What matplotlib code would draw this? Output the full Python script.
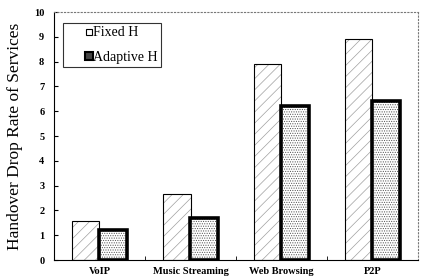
import matplotlib
matplotlib.use("Agg")
import matplotlib.pyplot as plt
import numpy as np
from matplotlib.lines import Line2D

categories = ["VoIP", "Music Streaming", "Web Browsing", "P2P"]
fixed_h = [1.57, 2.66, 7.89, 8.92]
adaptive_h = [1.2, 1.68, 6.22, 6.42]
series_names = ["Fixed H", "Adaptive H"]
yticks = list(range(0, 11))

plt.rcParams['font.family'] = ['Liberation Serif', 'DejaVu Serif']
plt.rcParams['hatch.linewidth'] = 0.5

fig = plt.figure(figsize=(4.27, 2.79), dpi=100)
ax = fig.add_axes([54/427, 1-260/279, 364/427, 248/279])

x = np.arange(len(categories))
w = 0.3

# Fixed H: light diagonal hatch, thin black edge
ax.bar(x - w/2, fixed_h, w, color="white", edgecolor="#a0a0a0", hatch="///", linewidth=0)
ax.bar(x - w/2, fixed_h, w, color="none", edgecolor="black", linewidth=0.8)
# Adaptive H: dotted hatch, thick black edge
ax.bar(x + w/2, adaptive_h, w, color="white", edgecolor="#555555", hatch=".......", linewidth=0)
ax.bar(x + w/2, adaptive_h, w, color="none", edgecolor="black", linewidth=2.6)

ax.set_xlim(-0.5, len(categories) - 0.5)
ax.set_ylim(0, 10)
ax.set_yticks(yticks)
ax.set_yticklabels([str(t) for t in yticks], fontsize=7.5, fontweight="bold")
ax.set_xticks(x)
ax.set_xticklabels(categories, fontsize=7.5, fontweight="bold")
ax.tick_params(axis='x', length=0, pad=5)
ax.set_xticks(np.arange(len(categories) - 1) + 0.5, minor=True)
ax.tick_params(axis='x', which='minor', direction='in', length=3)
ax.tick_params(axis='y', direction='in', length=3, pad=7)

for side in ["top", "right"]:
    ax.spines[side].set_linestyle((0, (1, 2)))
    ax.spines[side].set_color("#777777")
    ax.spines[side].set_linewidth(0.8)
for side in ["left", "bottom"]:
    ax.spines[side].set_linewidth(0.8)

ax.set_ylabel("Handover Drop Rate of Services", fontsize=12.5)
ax.yaxis.set_label_coords(-(54 - 23) / 364, 0.5)

handles = [
    Line2D([], [], marker="s", linestyle="none", markersize=4, markerfacecolor="white",
           markeredgecolor="black", markeredgewidth=0.8),
    Line2D([], [], marker="s", linestyle="none", markersize=5.5, markerfacecolor="#444444",
           markeredgecolor="black", markeredgewidth=1.5),
]
leg = ax.legend(handles, series_names, loc="upper left",
                bbox_to_anchor=((63 - 54) / 364, (260 - 23) / 248), borderaxespad=0,
                fontsize=10, frameon=True, fancybox=False, edgecolor="black",
                handlelength=3.2, handletextpad=-1.3, borderpad=0.25, labelspacing=0.8)
leg.get_frame().set_linewidth(0.8)

fig.savefig("out.png", dpi=100)
